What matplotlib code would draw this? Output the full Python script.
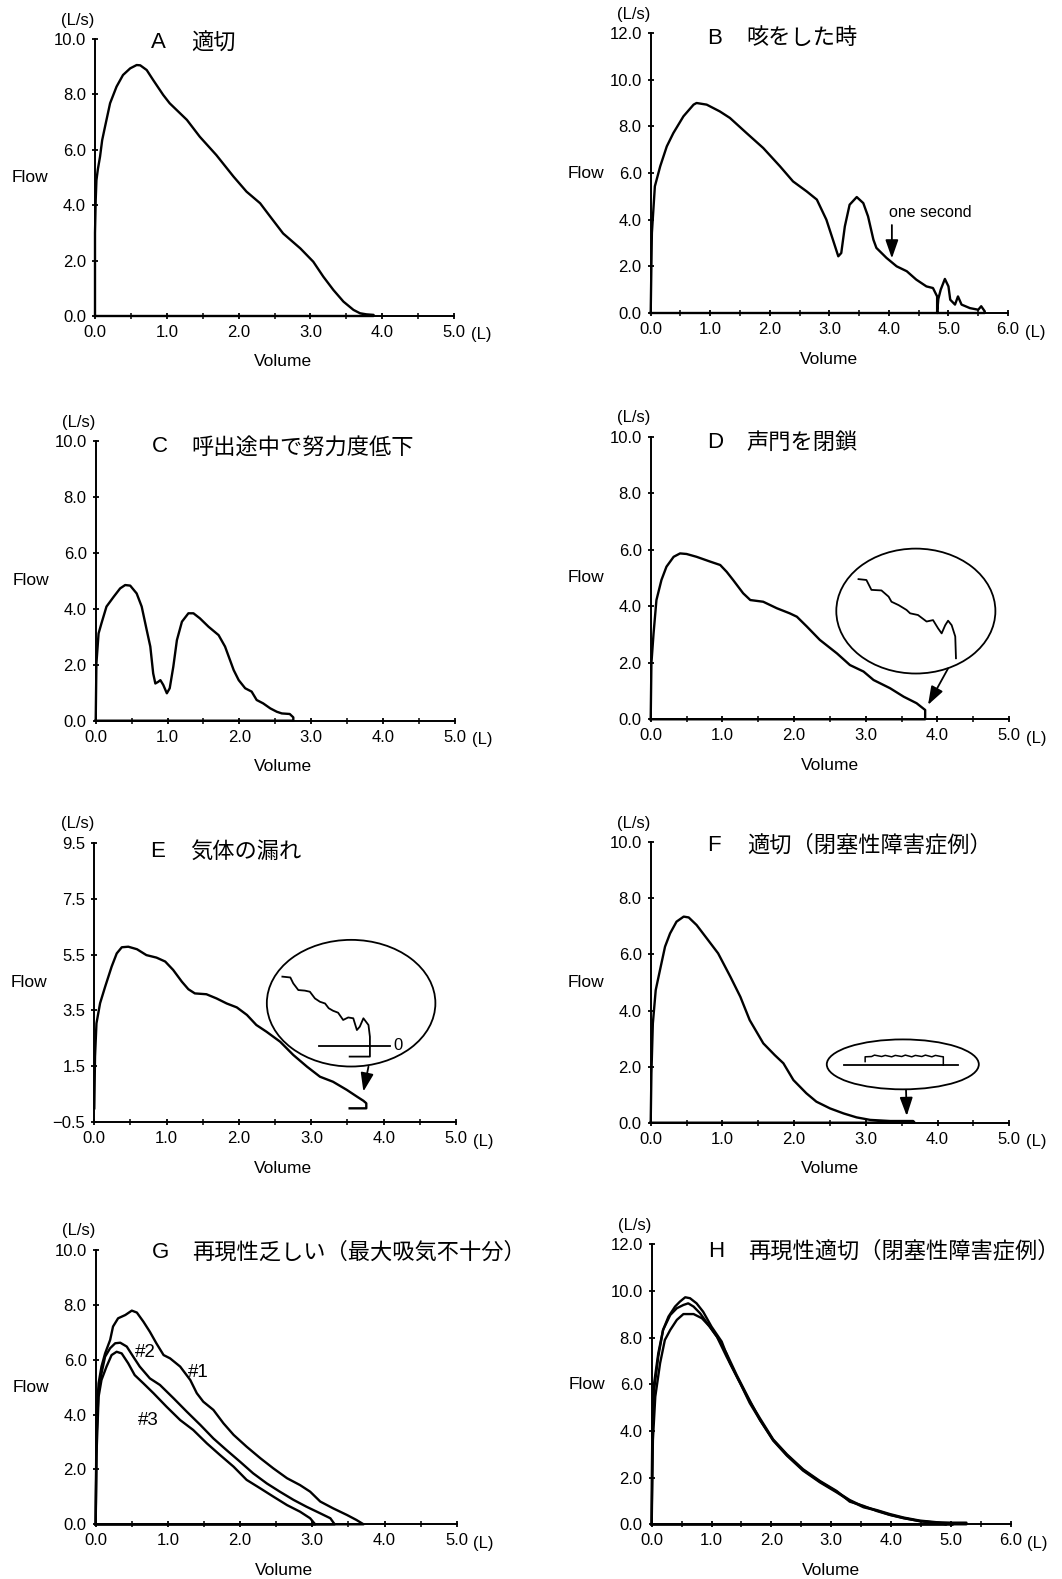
import matplotlib
matplotlib.use('Agg')
import matplotlib.pyplot as plt
from matplotlib.patches import Ellipse
from matplotlib.ticker import MultipleLocator

plt.rcParams['font.family'] = ['Liberation Sans', 'DejaVu Sans']
CJK = ['Noto Sans CJK JP', 'DejaVu Sans']

# ---------------- data ----------------
letters = ['A', 'B', 'C', 'D', 'E', 'F', 'G', 'H']
titles = ['適切', '咳をした時', '呼出途中で努力度低下', '声門を閉鎖', '気体の漏れ',
          '適切（閉塞性障害症例）', '再現性乏しい（最大吸気不十分）', '再現性適切（閉塞性障害症例）']
x_max = [5, 6, 5, 5, 5, 5, 5, 6]
y_ticks = [[0, 2, 4, 6, 8, 10], [0, 2, 4, 6, 8, 10, 12], [0, 2, 4, 6, 8, 10], [0, 2, 4, 6, 8, 10],
           [-0.5, 1.5, 3.5, 5.5, 7.5, 9.5], [0, 2, 4, 6, 8, 10], [0, 2, 4, 6, 8, 10], [0, 2, 4, 6, 8, 10, 12]]

A_vol = [0, 0.0, 0.01, 0.02, 0.04, 0.07, 0.10, 0.14, 0.21, 0.30, 0.39, 0.49, 0.58, 0.63, 0.72, 0.81, 0.95,
         1.04, 1.28, 1.46, 1.69, 1.93, 2.11, 2.30, 2.44, 2.62, 2.86, 3.04, 3.18, 3.32, 3.46, 3.60, 3.69,
         3.78, 3.88, 3.88, 0]
A_flow = [0, 3.0, 4.2, 4.9, 5.3, 5.75, 6.35, 6.84, 7.68, 8.28, 8.70, 8.94, 9.06, 9.05, 8.88, 8.52, 7.98,
          7.68, 7.08, 6.47, 5.81, 5.03, 4.49, 4.07, 3.59, 2.98, 2.44, 1.96, 1.42, 0.94, 0.52, 0.22, 0.10,
          0.06, 0.04, 0, 0]

B_vol = [0, 0.02, 0.07, 0.16, 0.27, 0.38, 0.55, 0.72, 0.77, 0.94, 1.16, 1.33, 1.61, 1.89, 2.17, 2.39,
         2.62, 2.79, 2.95, 3.06, 3.15, 3.20, 3.26, 3.34, 3.46, 3.57, 3.65, 3.74, 3.79, 3.96, 4.13, 4.30,
         4.46, 4.63, 4.74, 4.81, 4.81, 4.83, 4.87, 4.94, 5.00, 5.03, 5.11, 5.16, 5.22, 5.36, 5.50, 5.55,
         5.61, 5.61, 0]
B_flow = [0, 3.43, 5.43, 6.29, 7.14, 7.71, 8.43, 8.93, 9.0, 8.93, 8.64, 8.36, 7.71, 7.07, 6.29, 5.64,
          5.21, 4.86, 4.0, 3.14, 2.43, 2.57, 3.71, 4.64, 4.97, 4.71, 4.14, 3.14, 2.79, 2.36, 2.0, 1.79,
          1.43, 1.14, 1.07, 0.71, 0.0, 0.6, 1.0, 1.46, 1.14, 0.57, 0.36, 0.71, 0.36, 0.21, 0.14, 0.29,
          0.07, 0, 0]

C_vol = [0, 0.01, 0.04, 0.08, 0.15, 0.25, 0.34, 0.41, 0.48, 0.57, 0.64, 0.71, 0.76, 0.80, 0.83, 0.87,
         0.90, 0.94, 0.99, 1.03, 1.08, 1.13, 1.20, 1.29, 1.36, 1.45, 1.57, 1.71, 1.80, 1.92, 1.99, 2.08,
         2.17, 2.24, 2.33, 2.43, 2.52, 2.59, 2.70, 2.75, 2.75, 0]
C_flow = [0, 2.05, 3.12, 3.48, 4.08, 4.43, 4.73, 4.85, 4.83, 4.55, 4.08, 3.24, 2.65, 1.69, 1.33, 1.39,
          1.45, 1.28, 0.98, 1.16, 1.93, 2.88, 3.54, 3.84, 3.84, 3.66, 3.36, 3.06, 2.65, 1.81, 1.45, 1.16,
          1.04, 0.74, 0.62, 0.44, 0.32, 0.26, 0.24, 0.12, 0, 0]

D_vol = [0, 0.01, 0.04, 0.08, 0.15, 0.22, 0.32, 0.41, 0.50, 0.64, 0.83, 0.97, 1.06, 1.15, 1.29, 1.39,
         1.57, 1.76, 1.94, 2.04, 2.18, 2.36, 2.60, 2.78, 2.97, 3.11, 3.34, 3.53, 3.71, 3.80, 3.83, 3.83, 0]
D_flow = [0, 1.98, 3.04, 4.22, 4.93, 5.40, 5.75, 5.87, 5.85, 5.75, 5.58, 5.46, 5.22, 4.93, 4.46, 4.22,
          4.16, 3.93, 3.75, 3.63, 3.28, 2.81, 2.33, 1.92, 1.69, 1.39, 1.10, 0.80, 0.57, 0.39, 0.33, 0, 0]
D_zoom_vol = [2.90, 3.01, 3.08, 3.22, 3.32, 3.36, 3.46, 3.57, 3.62, 3.73, 3.85, 3.94, 4.01, 4.06, 4.11,
              4.15, 4.20, 4.25, 4.26]
D_zoom_flow = [4.96, 4.93, 4.58, 4.56, 4.34, 4.16, 4.04, 3.87, 3.75, 3.69, 3.46, 3.51, 3.22, 3.04, 3.33,
               3.49, 3.33, 2.93, 2.16]

E_vol = [0, 0.01, 0.03, 0.08, 0.15, 0.24, 0.31, 0.38, 0.47, 0.59, 0.72, 0.86, 0.98, 1.09, 1.21, 1.30,
         1.39, 1.55, 1.69, 1.83, 1.97, 2.11, 2.24, 2.38, 2.57, 2.75, 2.94, 3.12, 3.30, 3.49, 3.63, 3.72,
         3.76, 3.76, 3.53]
E_flow = [0, 1.85, 3.04, 3.76, 4.35, 5.07, 5.54, 5.76, 5.78, 5.69, 5.48, 5.39, 5.25, 4.95, 4.53, 4.26,
          4.11, 4.08, 3.93, 3.75, 3.61, 3.34, 2.98, 2.74, 2.38, 1.91, 1.49, 1.13, 0.95, 0.66, 0.42, 0.27,
          0.18, 0.0, 0.0]
E_zoom_vol = [2.60, 2.71, 2.75, 2.82, 2.91, 2.98, 3.05, 3.12, 3.19, 3.24, 3.30, 3.37, 3.44, 3.51, 3.58,
              3.63, 3.67, 3.72, 3.79, 3.81, 3.81, 3.53]
E_zoom_flow = [4.71, 4.68, 4.47, 4.23, 4.21, 4.17, 3.93, 3.81, 3.75, 3.58, 3.49, 3.42, 3.16, 3.25, 3.22,
               2.80, 2.92, 3.22, 2.98, 2.56, 1.85, 1.85]
E_zoom_zero_vol = [3.10, 4.09]
E_zoom_zero_flow = [2.23, 2.23]

F_vol = [0, 0.01, 0.03, 0.07, 0.13, 0.20, 0.27, 0.36, 0.46, 0.53, 0.64, 0.78, 0.94, 1.11, 1.25, 1.38,
         1.57, 1.73, 1.85, 1.99, 2.17, 2.31, 2.50, 2.69, 2.87, 3.06, 3.34, 3.66, 3.68, 0]
F_flow = [0, 1.76, 3.54, 4.73, 5.45, 6.28, 6.75, 7.17, 7.35, 7.32, 7.05, 6.58, 6.04, 5.21, 4.49, 3.66,
          2.83, 2.41, 2.12, 1.52, 1.05, 0.75, 0.51, 0.33, 0.19, 0.10, 0.06, 0.06, 0, 0]
F_zoom_top_vol = [2.99, 2.99, 3.08, 3.12, 3.22, 3.27, 3.36, 3.41, 3.50, 3.55, 3.64, 3.69, 3.78, 3.83,
                  3.92, 3.97, 4.05, 4.08, 4.08]
F_zoom_top_flow = [2.18, 2.35, 2.36, 2.41, 2.36, 2.40, 2.35, 2.40, 2.36, 2.41, 2.35, 2.40, 2.36, 2.41,
                   2.35, 2.40, 2.36, 2.35, 2.05]
F_zoom_base_vol = [2.70, 4.29]
F_zoom_base_flow = [2.05, 2.05]

G1_vol = [0, 0.01, 0.04, 0.08, 0.13, 0.20, 0.24, 0.31, 0.41, 0.50, 0.57, 0.66, 0.75, 0.84, 0.94, 1.03,
          1.17, 1.31, 1.40, 1.49, 1.63, 1.77, 1.91, 2.09, 2.28, 2.46, 2.65, 2.83, 2.97, 3.11, 3.29, 3.48,
          3.61, 3.71, 0]
G1_flow = [0, 3.68, 5.14, 5.75, 6.23, 6.72, 7.21, 7.51, 7.63, 7.79, 7.72, 7.39, 7.02, 6.60, 6.17, 6.05,
           5.75, 5.26, 4.78, 4.47, 4.17, 3.68, 3.26, 2.83, 2.41, 2.04, 1.68, 1.43, 1.19, 0.83, 0.58, 0.34,
           0.16, 0, 0]
G2_vol = [0, 0.01, 0.04, 0.08, 0.13, 0.20, 0.27, 0.34, 0.43, 0.52, 0.61, 0.75, 0.89, 1.08, 1.26, 1.45,
          1.63, 1.81, 2.00, 2.18, 2.37, 2.55, 2.74, 2.92, 3.11, 3.25, 3.31, 0]
G2_flow = [0, 3.07, 4.90, 5.50, 6.11, 6.42, 6.60, 6.62, 6.48, 6.11, 5.75, 5.32, 5.08, 4.59, 4.11, 3.62,
           3.13, 2.71, 2.28, 1.86, 1.49, 1.19, 0.89, 0.64, 0.40, 0.22, 0, 0]
G3_vol = [0, 0.01, 0.04, 0.08, 0.15, 0.22, 0.29, 0.36, 0.45, 0.54, 0.66, 0.80, 0.98, 1.17, 1.35, 1.54,
          1.72, 1.91, 2.09, 2.28, 2.46, 2.65, 2.83, 2.97, 3.04, 0]
G3_flow = [0, 2.47, 4.65, 5.26, 5.75, 6.17, 6.29, 6.23, 5.87, 5.44, 5.14, 4.78, 4.29, 3.80, 3.44, 2.95,
           2.53, 2.10, 1.62, 1.31, 1.01, 0.70, 0.46, 0.22, 0, 0]
G_labels = ['#2', '#1', '#3']
G_label_vol = [0.69, 1.42, 0.73]
G_label_flow = [6.27, 5.54, 3.77]

H1_vol = [0, 0.01, 0.04, 0.11, 0.19, 0.28, 0.39, 0.47, 0.56, 0.64, 0.75, 0.86, 1.00, 1.17, 1.31, 1.48,
          1.64, 1.81, 2.03, 2.26, 2.53, 2.81, 3.09, 3.31, 3.54, 3.76, 3.98, 4.21, 4.48, 4.76, 4.99, 5.26,
          5.26, 0]
H1_flow = [0, 4.33, 6.04, 7.33, 8.33, 8.90, 9.33, 9.54, 9.73, 9.69, 9.47, 9.11, 8.47, 7.83, 6.90, 6.04,
           5.19, 4.47, 3.61, 2.97, 2.33, 1.83, 1.40, 1.04, 0.76, 0.61, 0.44, 0.29, 0.16, 0.09, 0.07, 0.07,
           0, 0]
H2_vol = [0, 0.01, 0.04, 0.11, 0.19, 0.31, 0.42, 0.53, 0.61, 0.70, 0.81, 0.95, 1.09, 1.25, 1.45, 1.64,
          1.81, 2.03, 2.26, 2.53, 2.81, 3.09, 3.31, 3.54, 3.76, 3.98, 4.21, 4.48, 4.76, 5.04, 0]
H2_flow = [0, 4.04, 5.76, 7.19, 8.33, 8.97, 9.26, 9.40, 9.47, 9.33, 9.04, 8.54, 8.04, 7.19, 6.19, 5.26,
           4.54, 3.64, 3.00, 2.36, 1.86, 1.43, 0.97, 0.79, 0.57, 0.40, 0.26, 0.14, 0.07, 0, 0]
H3_vol = [0, 0.02, 0.06, 0.14, 0.22, 0.31, 0.42, 0.53, 0.70, 0.84, 0.97, 1.11, 1.25, 1.42, 1.62, 1.81,
          2.03, 2.26, 2.53, 2.81, 3.09, 3.31, 3.54, 3.76, 3.98, 4.21, 4.48, 4.76, 4.93, 0]
H3_flow = [0, 3.61, 5.47, 6.90, 7.90, 8.33, 8.76, 9.01, 9.01, 8.83, 8.47, 7.97, 7.33, 6.40, 5.40, 4.47,
           3.59, 2.94, 2.30, 1.80, 1.37, 1.01, 0.73, 0.59, 0.41, 0.27, 0.13, 0.06, 0, 0]

# annotation anchors (volume, flow)
B_note = 'one second'
B_note_pos = (4.69, 4.30)
B_arrow = ((4.05, 3.77), (4.05, 2.34))
D_ellipse = (3.70, 3.83, 2.22, 4.42)
D_arrow = ((4.15, 1.80), (3.87, 0.51))
E_ellipse = (3.55, 3.76, 2.33, 4.53)
E_arrow = ((3.79, 1.49), (3.72, 0.60))
E_zero_label = ('0', 4.20, 2.23)
F_ellipse = (3.515, 2.08, 2.12, 1.78)
F_arrow = ((3.56, 1.17), (3.57, 0.24))

# ---------------- layout ----------------
W, H = 1062, 1579
rects_px = [(95, 39, 454, 316), (650.7, 33, 1008, 313),
            (95.7, 441, 455, 720.7), (650.7, 436.7, 1009, 719.3),
            (94.3, 842.7, 456, 1122.3), (650.7, 842.3, 1009.3, 1122.7),
            (95.7, 1250, 456.7, 1524.3), (651.7, 1244.3, 1010.7, 1524.3)]
title_dy = [-4, -5, -6, -6, -9, -3, -2, -7]


def fmt(v):
    return f'{v:.1f}'.replace('-', '\u2212')


fig = plt.figure(figsize=(W / 100, H / 100), dpi=100)
fig.patch.set_facecolor('white')

axes = []
for i, (x0, y0, x1, y1) in enumerate(rects_px):
    ax = fig.add_axes([x0 / W, 1 - y1 / H, (x1 - x0) / W, (y1 - y0) / H])
    axes.append(ax)
    xm = x_max[i]
    yt = y_ticks[i]
    ax.set_xlim(0, xm)
    ax.set_ylim(yt[0], yt[-1])
    ax.set_xticks(list(range(xm + 1)))
    ax.set_xticklabels([fmt(v) for v in range(xm + 1)])
    ax.xaxis.set_minor_locator(MultipleLocator(0.5))
    ax.set_yticks(yt)
    ax.set_yticklabels([fmt(v) for v in yt])
    for s in ('top', 'right'):
        ax.spines[s].set_visible(False)
    for s in ('left', 'bottom'):
        ax.spines[s].set_linewidth(1.4)
    ax.tick_params(which='major', direction='inout', length=5, width=1.3, labelsize=12, pad=4)
    ax.tick_params(which='minor', direction='inout', length=4, width=1.1)
    ax.set_facecolor('none')
    left_col = (i % 2 == 0)
    ax.annotate('(L/s)', xy=(0, 1), xycoords='axes fraction', xytext=(-17, 19),
                textcoords='offset pixels', ha='center', va='center', fontsize=12)
    ax.annotate('Flow', xy=(0, 0.5), xycoords='axes fraction', xytext=(-65, 0),
                textcoords='offset pixels', ha='center', va='center', fontsize=12.5)
    ax.annotate('Volume', xy=(0.5, 0), xycoords='axes fraction', xytext=(8 if left_col else 0, -46),
                textcoords='offset pixels', ha='center', va='center', fontsize=12.5)
    ax.annotate('(L)', xy=(1, 0), xycoords='axes fraction', xytext=(27, -19),
                textcoords='offset pixels', ha='center', va='center', fontsize=12)
    ax.annotate(letters[i], xy=(0, 1), xycoords='axes fraction', xytext=(56, title_dy[i]),
                textcoords='offset pixels', ha='left', va='center', fontsize=16)
    ax.annotate(titles[i], xy=(0, 1), xycoords='axes fraction', xytext=(96, title_dy[i]),
                textcoords='offset pixels', ha='left', va='center', fontsize=16, family=CJK)

LW = 1.7
line_kw = dict(color='black', lw=LW, clip_on=False, solid_joinstyle='round')
thin_kw = dict(color='black', lw=1.3, clip_on=False)
arrow_kw = dict(arrowstyle='-|>,head_length=0.8,head_width=0.28', color='black', lw=1.3,
                shrinkA=0, shrinkB=0, mutation_scale=14)

# A
axes[0].plot(A_vol, A_flow, **line_kw)
# B
axes[1].plot(B_vol, B_flow, **line_kw)
axes[1].text(B_note_pos[0], B_note_pos[1], B_note, ha='center', va='center', fontsize=11.5)
axes[1].annotate('', xy=B_arrow[1], xytext=B_arrow[0], arrowprops=arrow_kw)
# C
axes[2].plot(C_vol, C_flow, **line_kw)
# D
axes[3].plot(D_vol, D_flow, **line_kw)
axes[3].plot(D_zoom_vol, D_zoom_flow, **thin_kw)
axes[3].add_patch(Ellipse(D_ellipse[:2], D_ellipse[2], D_ellipse[3], fill=False, lw=1.3, ec='black'))
axes[3].annotate('', xy=D_arrow[1], xytext=D_arrow[0], arrowprops=arrow_kw)
# E
axes[4].plot(E_vol, E_flow, **line_kw)
axes[4].plot(E_zoom_vol, E_zoom_flow, **thin_kw)
axes[4].plot(E_zoom_zero_vol, E_zoom_zero_flow, **thin_kw)
axes[4].text(E_zero_label[1], E_zero_label[2], E_zero_label[0], ha='center', va='center', fontsize=12)
axes[4].add_patch(Ellipse(E_ellipse[:2], E_ellipse[2], E_ellipse[3], fill=False, lw=1.3, ec='black'))
axes[4].annotate('', xy=E_arrow[1], xytext=E_arrow[0], arrowprops=arrow_kw)
# F
axes[5].plot(F_vol, F_flow, **line_kw)
axes[5].plot(F_zoom_top_vol, F_zoom_top_flow, color='black', lw=1.1, clip_on=False)
axes[5].plot(F_zoom_base_vol, F_zoom_base_flow, **thin_kw)
axes[5].add_patch(Ellipse(F_ellipse[:2], F_ellipse[2], F_ellipse[3], fill=False, lw=1.3, ec='black'))
axes[5].annotate('', xy=F_arrow[1], xytext=F_arrow[0], arrowprops=arrow_kw)
# G
for v, f in ((G1_vol, G1_flow), (G2_vol, G2_flow), (G3_vol, G3_flow)):
    axes[6].plot(v, f, **line_kw)
for lab, xv, yv in zip(G_labels, G_label_vol, G_label_flow):
    axes[6].text(xv, yv, lab, ha='center', va='center', fontsize=13.5)
# H
for v, f in ((H1_vol, H1_flow), (H2_vol, H2_flow), (H3_vol, H3_flow)):
    axes[7].plot(v, f, **line_kw)

fig.savefig('out.png', dpi=100, facecolor='white')
